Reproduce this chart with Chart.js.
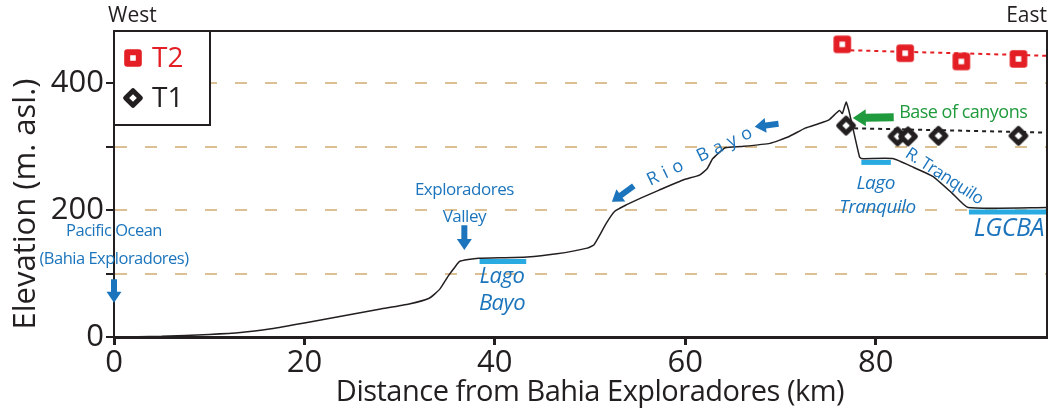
<!DOCTYPE html>
<html>
<head>
<meta charset="utf-8">
<script src="https://cdn.jsdelivr.net/npm/chart.js@4.4.1/dist/chart.umd.min.js"></script>
<style>
  html, body { margin: 0; padding: 0; background: #fff; }
  #wrap { width: 1052px; height: 412px; }
</style>
</head>
<body>
<div id="wrap"><canvas id="profileChart" width="1052" height="412"></canvas></div>
<script>
// valley floor profile (km from the bay, m asl)
const profileKm = [0, 5, 10, 13.3, 16.5, 20, 24, 28, 31, 33.1, 34.2, 35.1, 35.8, 36.3, 37.2, 38.3,
  43.4, 46.5, 49.7, 50.4, 51.0, 51.7, 52.6, 53.8, 55.5, 57.2, 59.9, 61.5, 62.3, 62.9, 64.2, 65.9,
  68.9, 70.8, 72.6, 74.0, 75.1, 76.2, 76.5, 76.9, 77.2, 78.3, 78.5, 81.8, 84.0, 86.0, 88.0, 89.7, 98];
const profileElev = [0, 1, 4, 7, 13, 22, 33, 44, 52, 61, 75, 96, 110, 119, 122, 124,
  126, 131, 140, 145, 160, 179, 198, 208, 220, 231, 248, 255, 265, 281, 298, 300,
  305, 315, 329, 336, 342, 357, 352, 370, 356, 284, 281, 281, 267, 253, 227, 204, 204];

// terrace surveys
const t2Km = [76.5, 83.1, 89.0, 95.0];
const t2Elev = [461, 447, 434, 438];
const t1Km = [76.9, 82.3, 83.4, 86.6, 95.0];
const t1Elev = [333, 316, 316, 317, 317];

// dotted trends through the terraces
const t2TrendKm = [76.5, 98];
const t2TrendElev = [452, 443];
const t1TrendKm = [76.9, 98];
const t1TrendElev = [329, 322];

// lakes: start, end, level
const lakeNames = ['Lago Bayo', 'Lago Tranquilo', 'LGCBA'];
const lakeStartKm = [38.4, 78.5, 89.8];
const lakeEndKm = [43.3, 81.6, 98];
const lakeElev = [119, 275, 197];

const xTicks = [0, 20, 40, 60, 80];
const yTicks = [0, 100, 200, 300, 400];
const yLabels = [0, 200, 400];

const FONT = "'Open Sans', sans-serif";
const INK = '#231f20';
const RED = '#e31e24';
const BLUE = '#1c75bc';
const LAKE = '#29abe2';
const GREEN = '#1f9a3c';
const TAN = '#dcbf92';

function pts(xs, ys) {
    return xs.map((v, i) => ({ x: v, y: ys[i] }));
}

// rounded square / diamond markers
function makeMarker(color, diamond) {
    const c = document.createElement('canvas');
    c.width = 26; c.height = 26;
    const g = c.getContext('2d');
    g.translate(13, 13);
    if (diamond) g.rotate(Math.PI / 4);
    const s = diamond ? 5.2 : 5.8;
    g.lineWidth = diamond ? 5 : 6;
    g.lineJoin = 'round';
    g.strokeStyle = color;
    g.fillStyle = '#fff';
    g.beginPath();
    g.rect(-s, -s, 2 * s, 2 * s);
    g.fill();
    g.stroke();
    return c;
}
const t2Marker = makeMarker(RED, false);
const t1Marker = makeMarker(INK, true);

// text notes and arrows, placed in data units
const notes = [
    { text: 'Pacific Ocean', km: 0, m: 166, color: BLUE, size: 16.5 },
    { text: '(Bahia Exploradores)', km: 0, m: 123, color: BLUE, size: 16.5 },
    { text: 'Exploradores', km: 36.8, m: 231, color: BLUE, size: 17 },
    { text: 'Valley', km: 36.8, m: 189, color: BLUE, size: 17 },
    { text: 'Lago', km: 40.75, m: 95, color: BLUE, size: 22, italic: true },
    { text: 'Bayo', km: 40.75, m: 52, color: BLUE, size: 22, italic: true },
    { text: 'Rio Bayo', km: 61.8, m: 286, color: BLUE, size: 18, rot: -25.5, spacing: 6 },
    { text: 'Base of canyons', km: 89.2, m: 353, color: GREEN, size: 18 },
    { text: 'Lago', km: 80.0, m: 242, color: BLUE, size: 19, italic: true },
    { text: 'Tranquilo', km: 80.2, m: 204, color: BLUE, size: 19, italic: true },
    { text: 'R. Tranquilo', km: 87.2, m: 253, color: BLUE, size: 17, rot: 33 },
    { text: 'LGCBA', km: 94.0, m: 170, color: BLUE, size: 25, italic: true }
];
const arrows = [
    { from: [0, 91], to: [0, 54], color: BLUE, shaft: 6, head: 15, headLen: 11 },
    { from: [36.8, 176], to: [36.8, 137], color: BLUE, shaft: 6, head: 15, headLen: 11 },
    { from: [54.6, 238], to: [52.3, 213], color: BLUE, shaft: 6, head: 15, headLen: 11 },
    { from: [69.8, 336], to: [67.3, 331], color: BLUE, shaft: 6, head: 15, headLen: 11 },
    { from: [81.9, 346], to: [77.6, 345], color: GREEN, shaft: 8, head: 17, headLen: 13 }
];

function drawArrow(ctx, x1, y1, x2, y2, a) {
    const ang = Math.atan2(y2 - y1, x2 - x1);
    const len = Math.hypot(x2 - x1, y2 - y1);
    ctx.save();
    ctx.translate(x1, y1);
    ctx.rotate(ang);
    ctx.fillStyle = a.color;
    ctx.beginPath();
    ctx.moveTo(0, -a.shaft / 2);
    ctx.lineTo(len - a.headLen, -a.shaft / 2);
    ctx.lineTo(len - a.headLen, -a.head / 2);
    ctx.lineTo(len, 0);
    ctx.lineTo(len - a.headLen, a.head / 2);
    ctx.lineTo(len - a.headLen, a.shaft / 2);
    ctx.lineTo(0, a.shaft / 2);
    ctx.closePath();
    ctx.fill();
    ctx.restore();
}

const annotate = {
    id: 'annotate',
    afterDatasetsDraw(chart) {
        const { ctx, chartArea: a, scales: { x, y } } = chart;
        ctx.save();

        // frame top and right
        ctx.strokeStyle = INK;
        ctx.lineWidth = 2;
        ctx.beginPath();
        ctx.moveTo(a.left, a.top);
        ctx.lineTo(a.right, a.top);
        ctx.lineTo(a.right, a.bottom);
        ctx.stroke();

        // legend box
        ctx.fillStyle = '#fff';
        ctx.fillRect(a.left, a.top, 96, 94);
        ctx.strokeRect(a.left, a.top, 96, 94);
        ctx.drawImage(t2Marker, a.left + 19 - 13, a.top + 27 - 13);
        ctx.drawImage(t1Marker, a.left + 19 - 13, a.top + 67 - 13);
        ctx.font = '28px ' + FONT;
        ctx.textAlign = 'left';
        ctx.textBaseline = 'middle';
        ctx.fillStyle = RED;
        ctx.fillText('T2', a.left + 38, a.top + 28);
        ctx.fillStyle = INK;
        ctx.fillText('T1', a.left + 38, a.top + 68);

        // West / East
        ctx.font = '21px ' + FONT;
        ctx.fillText('West', a.left - 6, a.top - 15);
        ctx.textAlign = 'right';
        ctx.fillText('East', a.right, a.top - 15);

        // axis titles
        ctx.textAlign = 'center';
        ctx.font = '29px ' + FONT;
        ctx.letterSpacing = '-0.5px';
        ctx.fillText('Distance from Bahia Exploradores (km)', 590, a.bottom + 56);
        ctx.save();
        ctx.translate(26, 204);
        ctx.rotate(-Math.PI / 2);
        ctx.font = '31px ' + FONT;
        ctx.letterSpacing = '0px';
        ctx.fillText('Elevation (m. asl.)', 0, 0);
        ctx.restore();

        arrows.forEach(ar => {
            drawArrow(ctx, x.getPixelForValue(ar.from[0]), y.getPixelForValue(ar.from[1]),
                x.getPixelForValue(ar.to[0]), y.getPixelForValue(ar.to[1]), ar);
        });

        notes.forEach(n => {
            ctx.save();
            ctx.translate(x.getPixelForValue(n.km), y.getPixelForValue(n.m));
            if (n.rot) ctx.rotate(n.rot * Math.PI / 180);
            ctx.font = (n.italic ? 'italic ' : '') + n.size + 'px ' + FONT;
            ctx.letterSpacing = (n.spacing || -0.5) + 'px';
            ctx.fillStyle = n.color;
            ctx.textAlign = 'center';
            ctx.textBaseline = 'middle';
            ctx.fillText(n.text, 0, 0);
            ctx.restore();
        });
        ctx.restore();
    }
};

const lakeSets = lakeNames.map((name, i) => ({
    label: name,
    data: pts([lakeStartKm[i], lakeEndKm[i]], [lakeElev[i], lakeElev[i]]),
    borderColor: LAKE,
    borderWidth: 5,
    pointRadius: 0,
    borderCapStyle: 'butt',
    order: 4
}));

new Chart(document.getElementById('profileChart'), {
    type: 'line',
    data: {
        datasets: [
            { label: 'T2', data: pts(t2Km, t2Elev), showLine: false, pointStyle: t2Marker, order: 0 },
            { label: 'T1', data: pts(t1Km, t1Elev), showLine: false, pointStyle: t1Marker, order: 0 },
            { label: 'T2 trend', data: pts(t2TrendKm, t2TrendElev), borderColor: RED, borderWidth: 2,
              borderDash: [4, 4], pointRadius: 0, order: 1 },
            { label: 'T1 trend', data: pts(t1TrendKm, t1TrendElev), borderColor: INK, borderWidth: 2,
              borderDash: [4, 4], pointRadius: 0, order: 1 },
            { label: 'Profile', data: pts(profileKm, profileElev), borderColor: INK, borderWidth: 1.5,
              pointRadius: 0, tension: 0.15, order: 2 },
            ...lakeSets
        ]
    },
    options: {
        responsive: false,
        animation: false,
        devicePixelRatio: 1,
        layout: { padding: { top: 31, right: 2, left: 0, bottom: 0 } },
        plugins: { legend: { display: false }, tooltip: { enabled: false } },
        scales: {
            x: {
                type: 'linear',
                min: 0,
                max: 98,
                afterBuildTicks: s => { s.ticks = xTicks.map(v => ({ value: v })); },
                afterFit: s => { s.height = 75; },
                ticks: { color: INK, font: { family: FONT, size: 31 }, padding: 0, maxRotation: 0 },
                grid: { drawOnChartArea: false, drawTicks: true, tickLength: 8, tickWidth: 3, tickColor: INK },
                border: { color: INK, width: 3 }
            },
            y: {
                type: 'linear',
                min: 0,
                max: 482,
                afterBuildTicks: s => { s.ticks = yTicks.map(v => ({ value: v })); },
                afterFit: s => { s.width = 114; },
                ticks: {
                    color: INK,
                    font: { family: FONT, size: 31 },
                    padding: 2,
                    callback: v => yLabels.includes(v) ? v : ''
                },
                grid: {
                    color: c => c.tick && c.tick.value === 0 ? 'rgba(0,0,0,0)' : TAN,
                    lineWidth: 2,
                    tickLength: 8,
                    tickWidth: 2,
                    tickColor: INK,
                    tickBorderDash: []
                },
                border: { color: INK, width: 2, dash: [12, 18] }
            }
        }
    },
    plugins: [annotate]
});
</script>
</body>
</html>
